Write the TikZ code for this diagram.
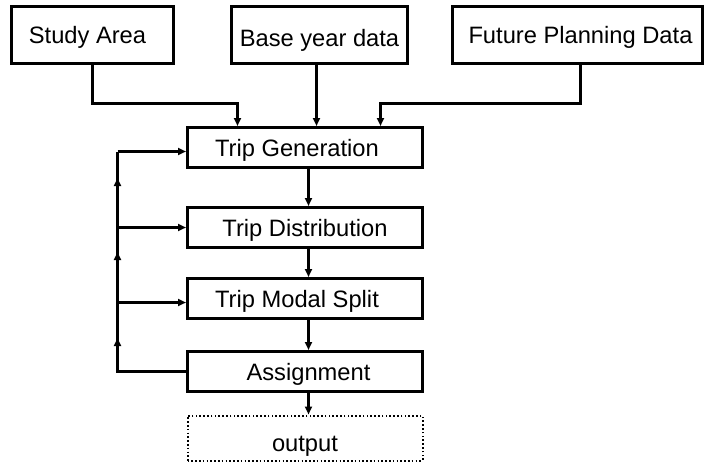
\documentclass[tikz,border=0pt]{standalone}
\usepackage{fontspec}
\setmainfont{Liberation Sans}
\usetikzlibrary{arrows.meta}
\begin{document}
\begin{tikzpicture}[x=1pt,y=-1pt,
  box/.style={draw,line width=3pt,rectangle,inner sep=0pt,
    text height=17pt,text depth=0pt,
    font=\fontsize{23.7}{26}\selectfont},
  inbox/.style={box,minimum height=57pt},
  stepbox/.style={box,minimum width=235pt,minimum height=40pt},
  outbox/.style={stepbox,line width=2pt,dash pattern=on 1.6pt off 2.2pt,minimum height=45pt},
  link/.style={line width=3pt},
  arr/.style={link,-{Triangle[length=8pt,width=7pt]}},
  tip/.style={line width=3pt,-{Triangle[length=8pt,width=7pt]}}]
\useasboundingbox (0,0) rectangle (705,463);

% inputs
\node[inbox,minimum width=162pt] (study) at (92.5,35) {\hspace*{-10pt}Study Area};
\node[inbox,minimum width=176pt] (base) at (319.5,35) {\raisebox{-3pt}{Base year data}};
\node[inbox,minimum width=250pt] (future) at (577.5,35) {\hspace*{6pt}Future Planning Data};

% model steps
\node[stepbox] (gen) at (305,147.5) {\hspace*{-16pt}Trip Generation};
\node[stepbox] (dist) at (305,227.5) {Trip Distribution};
\node[stepbox] (mod) at (305,298.5) {\hspace*{-16pt}Trip Modal Split};
\node[stepbox] (asg) at (305,371.5) {\hspace*{7pt}Assignment};
\node[outbox] (out) at (305,438) {\raisebox{-5pt}{output}};

% inputs into trip generation
\coordinate (sj) at (237.5,103.5);
\coordinate (fj) at (380.5,103.5);
\draw[arr] (study.south) |- (sj) -- (sj |- gen.north);
\draw[arr] ([xshift=-3pt]base.south) -- ([xshift=-3pt]base.south |- gen.north);
\draw[arr] ([xshift=3pt]future.south) |- (fj) -- (fj |- gen.north);

% main chain
\draw[arr] ([xshift=3.5pt]gen.south) -- ([xshift=3.5pt]dist.north);
\draw[arr] ([xshift=3.5pt]dist.south) -- ([xshift=3.5pt]mod.north);
\draw[arr] ([xshift=3.5pt]mod.south) -- ([xshift=3.5pt]asg.north);
\draw[arr] ([xshift=3.5pt]asg.south) -- ([xshift=3.5pt]out.north);

% feedback loop
\coordinate (fbx) at (117.5,0);
\draw[link] (asg.west) -- (asg.west -| fbx) -- ([yshift=-4pt]fbx |- gen.west);
\draw[arr] ([yshift=-4pt]gen.west -| fbx) -- ([yshift=-4pt]gen.west);
\draw[arr] (dist.west -| fbx) -- (dist.west);
\draw[arr] ([yshift=-4pt]mod.west -| fbx) -- ([yshift=-4pt]mod.west);
\draw[tip] (117.5,346) -- (117.5,338);
\draw[tip] (117.5,260) -- (117.5,252);
\draw[tip] (117.5,186) -- (117.5,178);
\end{tikzpicture}
\end{document}
